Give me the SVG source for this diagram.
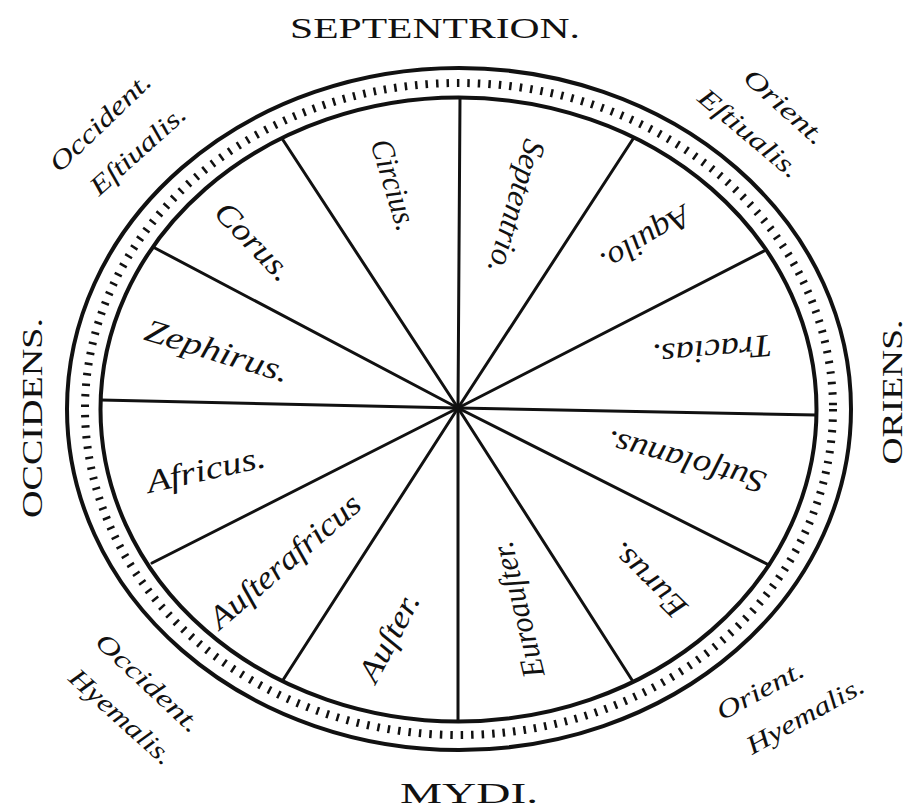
<svg xmlns="http://www.w3.org/2000/svg" width="910" height="811" viewBox="0 0 910 811">
<style>
.bg{fill:#ffffff}
.ring{fill:none;stroke:#111;stroke-width:4}
.ticks{fill:none;stroke:#111;stroke-width:8;stroke-dasharray:2.5 8}
.spoke{stroke:#111;stroke-width:3;stroke-linecap:round;fill:none}
.wind{font-family:"Liberation Serif",serif;font-style:italic;font-size:32px;fill:#111;text-anchor:middle}
.card{font-family:"Liberation Serif",serif;font-size:30px;fill:#111;text-anchor:middle}
.corner{font-family:"Liberation Serif",serif;font-style:italic;font-size:26px;fill:#111;text-anchor:middle}
</style>
<rect class="bg" x="0" y="0" width="910" height="811"/>
<g id="ring">
<ellipse class="ring" cx="459" cy="409" rx="392" ry="341"/>
<ellipse class="ticks" cx="459" cy="409" rx="374" ry="326"/>
<ellipse class="ring" cx="458.5" cy="409.5" rx="358" ry="312"/>
</g>
<g id="connectors">
<line class="spoke" x1="458" y1="408" x2="460" y2="98"/>
<line class="spoke" x1="458" y1="408" x2="633" y2="139"/>
<line class="spoke" x1="458" y1="408" x2="766" y2="250"/>
<line class="spoke" x1="458" y1="408" x2="816" y2="415"/>
<line class="spoke" x1="458" y1="408" x2="769" y2="565"/>
<line class="spoke" x1="458" y1="408" x2="632" y2="680"/>
<line class="spoke" x1="458" y1="408" x2="458" y2="721"/>
<line class="spoke" x1="458" y1="408" x2="283" y2="680"/>
<line class="spoke" x1="458" y1="408" x2="152" y2="563"/>
<line class="spoke" x1="458" y1="408" x2="101" y2="400"/>
<line class="spoke" x1="458" y1="408" x2="153" y2="247"/>
<line class="spoke" x1="458" y1="408" x2="283" y2="140"/>
</g>
<g id="circius"><text class="wind" transform="translate(393.5,185) rotate(73)" x="0" y="10" textLength="94" lengthAdjust="spacingAndGlyphs">Circius.</text></g>
<g id="corus"><text class="wind" transform="translate(253.5,242) rotate(46)" x="0" y="10" textLength="97" lengthAdjust="spacingAndGlyphs">Corus.</text></g>
<g id="zephirus"><text class="wind" transform="translate(217,351.5) rotate(17)" x="0" y="10" textLength="149" lengthAdjust="spacingAndGlyphs">Zephirus.</text></g>
<g id="africus"><text class="wind" transform="translate(206,470) rotate(-12.6)" x="0" y="10" textLength="121" lengthAdjust="spacingAndGlyphs">Africus.</text></g>
<g id="austerafricus"><text class="wind" transform="translate(285,561.5) rotate(-40.5)" x="0" y="10" textLength="189" lengthAdjust="spacingAndGlyphs">Auſterafricus</text></g>
<g id="auster"><text class="wind" transform="translate(389.5,637.5) rotate(-62)" x="0" y="10" textLength="96" lengthAdjust="spacingAndGlyphs">Auſter.</text></g>
<g id="euroauster"><text class="wind" transform="translate(518.5,609.5) rotate(-103.7)" x="0" y="10" textLength="139" lengthAdjust="spacingAndGlyphs">Euroauſter.</text></g>
<g id="eurus"><text class="wind" transform="translate(648.5,580) rotate(-135.4)" x="0" y="10" textLength="94" lengthAdjust="spacingAndGlyphs">Eurus.</text></g>
<g id="sutsolanus"><text class="wind" transform="translate(686,461.5) rotate(195.2)" x="0" y="10" textLength="164" lengthAdjust="spacingAndGlyphs">Sutſolanus.</text></g>
<g id="tracias"><text class="wind" transform="translate(712,350) rotate(175)" x="0" y="10" textLength="120" lengthAdjust="spacingAndGlyphs">Tracias.</text></g>
<g id="aquilo"><text class="wind" transform="translate(645.5,239) rotate(148.5)" x="0" y="10" textLength="100" lengthAdjust="spacingAndGlyphs">Aquilo.</text></g>
<g id="septentrio"><text class="wind" transform="translate(516,206.5) rotate(106)" x="0" y="10" textLength="138" lengthAdjust="spacingAndGlyphs">Septentrio.</text></g>
<g id="septentrion-label"><text class="card" x="435" y="38" textLength="290" lengthAdjust="spacingAndGlyphs">SEPTENTRION.</text></g>
<g id="mydi-label"><text class="card" x="469" y="803" textLength="138" lengthAdjust="spacingAndGlyphs">MYDI.</text></g>
<g id="occidens-label"><text class="card" transform="translate(42,418) rotate(-90)" x="0" y="0" textLength="200" lengthAdjust="spacingAndGlyphs">OCCIDENS.</text></g>
<g id="oriens-label"><text class="card" transform="translate(902,392) rotate(-90)" x="0" y="0" textLength="145" lengthAdjust="spacingAndGlyphs">ORIENS.</text></g>
<g id="occident-estiualis"><text class="corner" transform="translate(100,122) rotate(-43.8)" x="0" y="9" textLength="130" lengthAdjust="spacingAndGlyphs">Occident.</text><text class="corner" transform="translate(137.5,150) rotate(-42)" x="0" y="9" textLength="120" lengthAdjust="spacingAndGlyphs">Eſtiualis.</text></g>
<g id="orient-estiualis"><text class="corner" transform="translate(785,106.5) rotate(42)" x="0" y="9" textLength="100" lengthAdjust="spacingAndGlyphs">Orient.</text><text class="corner" transform="translate(749.5,133) rotate(40)" x="0" y="9" textLength="124" lengthAdjust="spacingAndGlyphs">Eſtiualis.</text></g>
<g id="occident-hyemalis"><text class="corner" transform="translate(148.5,682.5) rotate(43)" x="0" y="9" textLength="133" lengthAdjust="spacingAndGlyphs">Occident.</text><text class="corner" transform="translate(121.5,716.5) rotate(42)" x="0" y="9" textLength="130" lengthAdjust="spacingAndGlyphs">Hyemalis.</text></g>
<g id="orient-hyemalis"><text class="corner" transform="translate(760,690) rotate(-28.7)" x="0" y="9" textLength="96" lengthAdjust="spacingAndGlyphs">Orient.</text><text class="corner" transform="translate(805,715) rotate(-29.3)" x="0" y="9" textLength="131" lengthAdjust="spacingAndGlyphs">Hyemalis.</text></g>
</svg>
